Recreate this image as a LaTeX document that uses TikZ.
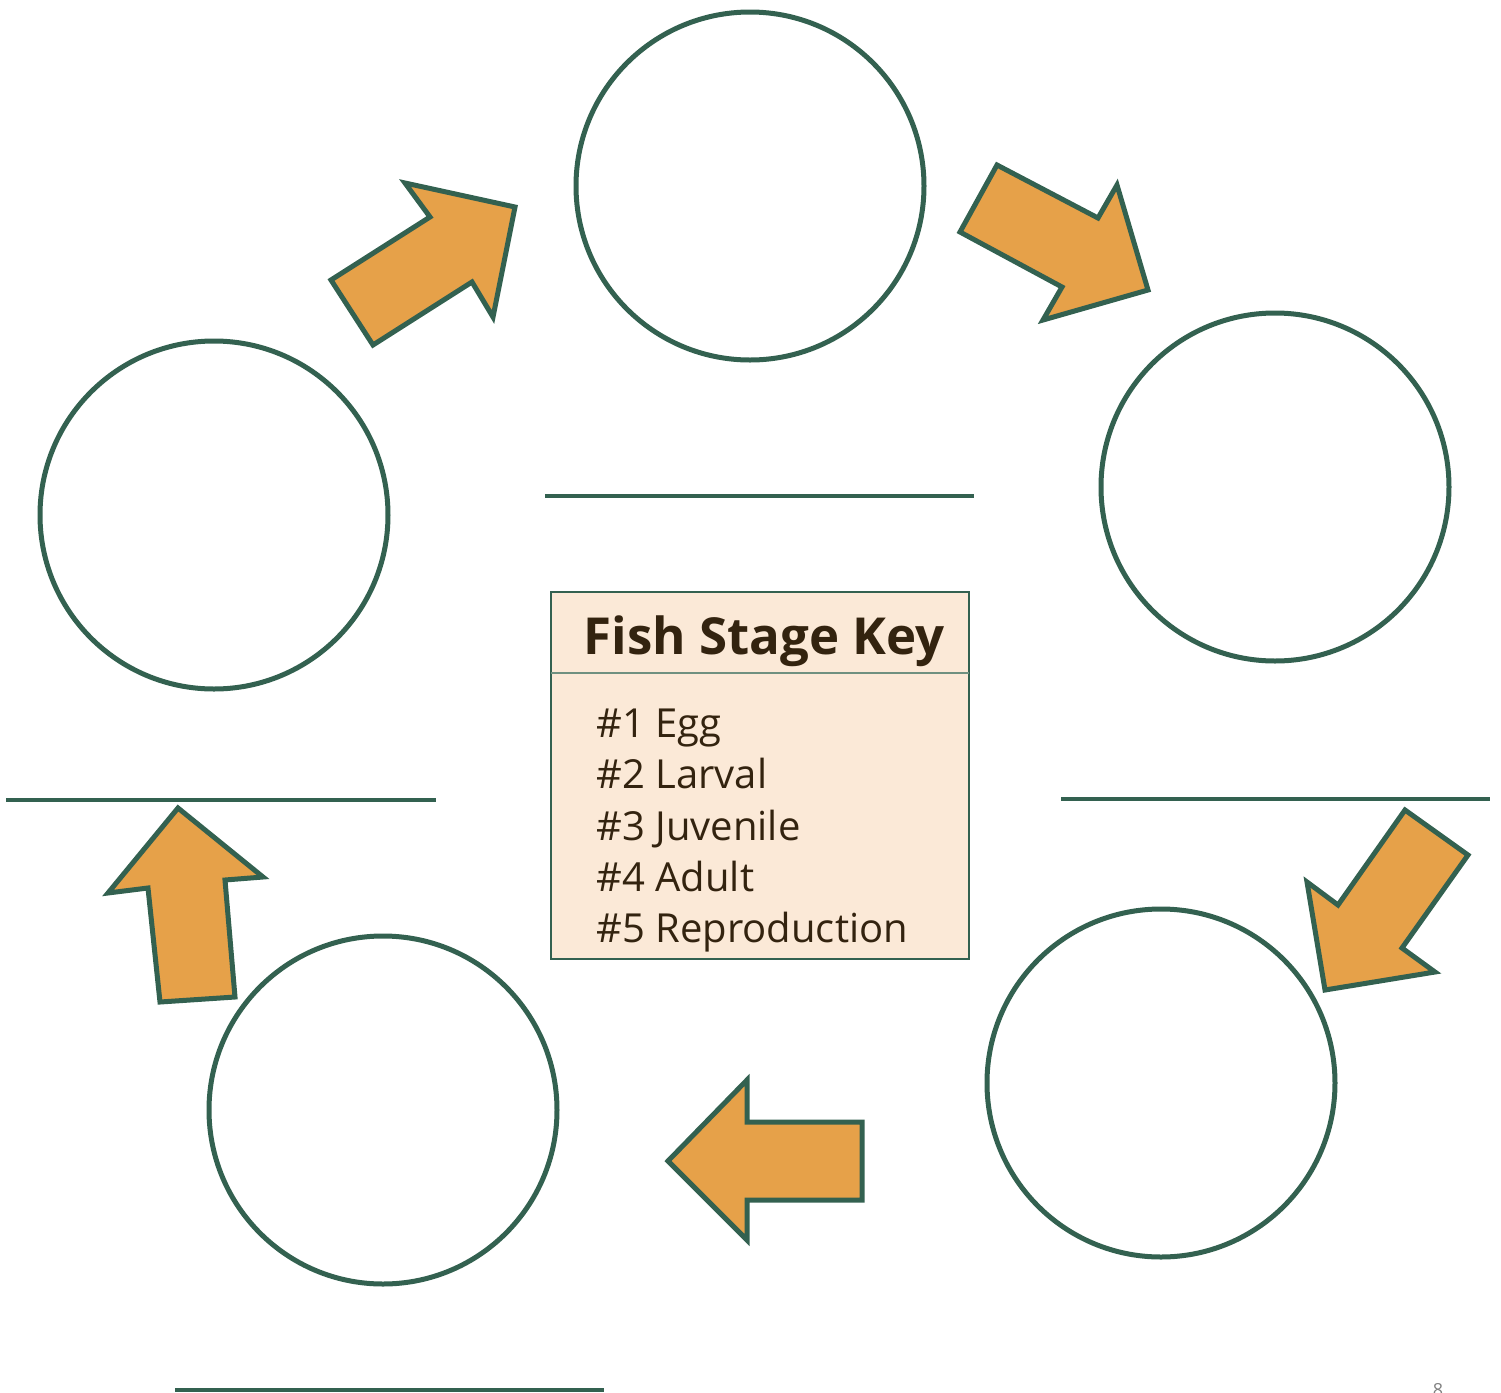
\documentclass[tikz,border=0pt]{standalone}
\usepackage{fontspec}
\setmainfont{Open Sans}
\definecolor{dkgreen}{HTML}{336150}
\definecolor{arrowfill}{HTML}{E6A149}
\definecolor{keyfill}{HTML}{FBE9D7}
\definecolor{keytext}{HTML}{33230F}
\definecolor{divider}{HTML}{6F9080}
\begin{document}
\begin{tikzpicture}[x={(0.5pt,0)},y={(0,-0.5pt)},
  stage/.style={circle,draw=dkgreen,line width=2.5pt,minimum size=174pt,inner sep=0pt,fill=white},
  blockarrow/.style={draw=dkgreen,fill=arrowfill,line width=2.5pt,line join=miter},
  answerline/.style={draw=dkgreen,line width=2.2pt},
  keyitem/.style={anchor=base west,inner sep=0pt,font=\fontsize{20pt}{23pt}\selectfont,text=keytext}]
\useasboundingbox (0,0) rectangle (1501,1393);
% stage circles
\node[stage] (c1) at (750,186) {};
\node[stage] (c2) at (1275,487) {};
\node[stage] (c3) at (1161,1083) {};
\node[stage] (c4) at (383,1110) {};
\node[stage] (c5) at (214,515) {};
% answer lines
\coordinate (l1a) at (545,496); \coordinate (l1b) at (974,496);
\coordinate (l2a) at (6,800);   \coordinate (l2b) at (436,800);
\coordinate (l3a) at (1061,799); \coordinate (l3b) at (1490,799);
\coordinate (l4a) at (175,1390); \coordinate (l4b) at (604,1390);
\draw[answerline] (l1a) -- (l1b);
\draw[answerline] (l2a) -- (l2b);
\draw[answerline] (l3a) -- (l3b);
\draw[answerline] (l4a) -- (l4b);
% block arrows
\draw[blockarrow] (331,280) -- (430,217) -- (405,183) -- (515,207) -- (493,317) -- (472,282) -- (373,345) -- cycle;
\draw[blockarrow] (960,232) -- (997,165) -- (1098,218) -- (1117,185) -- (1148,290) -- (1043,320) -- (1062,287) -- cycle;
\draw[blockarrow] (1405,810) -- (1468,855) -- (1402,948) -- (1435,972) -- (1325,990) -- (1307,882) -- (1338,905) -- cycle;
\draw[blockarrow] (668,1161) -- (747,1080) -- (747,1122) -- (862,1122) -- (862,1200) -- (747,1200) -- (747,1240) -- cycle;
\draw[blockarrow] (178,808) -- (263,877) -- (225,880) -- (235,997) -- (160,1002) -- (148,888) -- (108,893) -- cycle;
% key box
\draw[draw=dkgreen,fill=keyfill,line width=1pt] (551,592) rectangle (969,959);
\coordinate (dl) at (551,673); \coordinate (dr) at (969,673);
\draw[divider,line width=0.6pt] (dl) -- (dr);
\node[inner sep=0pt,text=keytext,font=\fontsize{25.5pt}{30pt}\selectfont\bfseries] (title) at (764,641) {Fish Stage Key};
\node[keyitem] (k1) at (596,737) {\#1 Egg};
\node[keyitem] (k2) at (596,788) {\#2 Larval};
\node[keyitem] (k3) at (596,840) {\#3 Juvenile};
\node[keyitem] (k4) at (596,891) {\#4 Adult};
\node[keyitem] (k5) at (596,942) {\#5 Reproduction};
% page number (cut off at the page edge, as in the reference)
\node[anchor=north,inner sep=0pt,text=gray,font=\fontsize{9pt}{10pt}\selectfont] (pg) at (1438,1383) {8};
\end{tikzpicture}
\end{document}
